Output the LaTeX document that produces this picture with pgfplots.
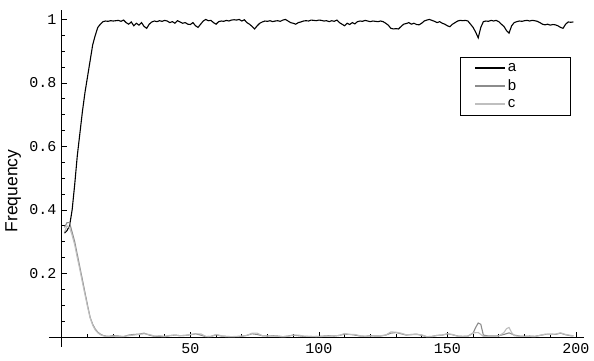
\documentclass[border=0pt]{standalone}
\usepackage{fontspec}
\setmainfont{Liberation Sans}
\setmonofont{Liberation Mono}
\usepackage{pgfplots}
\pgfplotsset{compat=1.18}
\usepackage{pgfplotstable}

\pgfplotstableread{
x y
1 0.327
2 0.335
3 0.35
4 0.40
5 0.48
6 0.57
7 0.64
8 0.71
9 0.77
10 0.82
11 0.87
12 0.92
13 0.95
14 0.975
15 0.985
16 0.993
17 0.995
18 0.994
19 0.996
20 0.995
21 0.996
22 0.997
23 0.994
24 0.998
25 0.990
26 0.985
27 0.992
28 0.980
29 0.988
30 0.982
31 0.990
32 0.978
33 0.972
34 0.985
35 0.992
36 0.995
37 0.993
38 0.996
39 0.994
40 0.997
41 0.995
42 0.990
43 0.993
44 0.988
45 0.996
46 0.992
47 0.988
48 0.990
49 0.985
50 0.984
51 0.990
52 0.980
53 0.975
54 0.985
55 0.995
56 1.0
57 0.996
58 0.997
59 0.990
60 0.985
61 0.993
62 0.995
63 0.994
64 0.997
65 0.995
66 0.998
67 0.999
68 0.998
69 1.0
70 0.995
71 0.999
72 0.990
73 0.985
74 0.978
75 0.970
76 0.980
77 0.988
78 0.992
79 0.995
80 0.994
81 0.996
82 0.993
83 0.995
84 0.996
85 0.994
86 0.998
87 1.0
88 0.995
89 0.990
90 0.988
91 0.985
92 0.990
93 0.992
94 0.995
95 0.996
96 0.995
97 0.998
98 0.997
99 0.996
100 0.998
101 0.997
102 0.995
103 0.996
104 0.993
105 0.996
106 0.994
107 0.998
108 0.990
109 0.985
110 0.980
111 0.988
112 0.984
113 0.990
114 0.986
115 0.993
116 0.995
117 0.994
118 0.997
119 0.995
120 0.993
121 0.995
122 0.994
123 0.993
124 0.995
125 0.993
126 0.988
127 0.982
128 0.972
129 0.970
130 0.971
131 0.970
132 0.978
133 0.985
134 0.987
135 0.990
136 0.985
137 0.988
138 0.984
139 0.983
140 0.988
141 0.995
142 0.998
143 1.0
144 0.997
145 0.994
146 0.990
147 0.993
148 0.988
149 0.985
150 0.980
151 0.977
152 0.985
153 0.990
154 0.995
155 0.997
156 0.996
157 0.997
158 0.995
159 0.985
160 0.975
161 0.960
162 0.942
163 0.975
164 0.993
165 0.995
166 0.994
167 0.997
168 0.995
169 0.997
170 0.993
171 0.985
172 0.978
173 0.965
174 0.957
175 0.980
176 0.990
177 0.993
178 0.995
179 0.994
180 0.996
181 0.997
182 0.995
183 0.997
184 0.996
185 0.994
186 0.990
187 0.985
188 0.983
189 0.985
190 0.982
191 0.984
192 0.983
193 0.980
194 0.975
195 0.972
196 0.985
197 0.992
198 0.991
199 0.992
}\dataA

\pgfplotstableread{
x y
1 0.345
2 0.36
3 0.36
4 0.33
5 0.30
6 0.26
7 0.22
8 0.18
9 0.14
10 0.10
11 0.062
12 0.04
13 0.025
14 0.015
15 0.009
16 0.005
17 0.003
18 0.002
20 0.004
22 0.003
24 0.001
26 0.006
28 0.008
30 0.009
32 0.012
34 0.006
36 0.002
38 0.002
40 0.001
42 0.004
44 0.006
46 0.004
48 0.005
50 0.007
52 0.010
54 0.006
56 0.001
58 0.002
60 0.007
62 0.003
64 0.002
66 0.001
68 0.001
70 0.002
72 0.005
74 0.010
76 0.008
78 0.004
80 0.003
82 0.004
84 0.003
86 0.001
88 0.003
90 0.006
92 0.004
94 0.002
96 0.002
98 0.001
100 0.002
102 0.003
104 0.004
106 0.003
108 0.005
110 0.009
112 0.008
114 0.006
116 0.003
118 0.002
120 0.004
122 0.003
124 0.003
126 0.006
128 0.012
130 0.014
132 0.010
134 0.006
136 0.008
138 0.009
140 0.005
142 0.001
144 0.002
146 0.005
148 0.006
150 0.010
152 0.007
154 0.003
156 0.002
158 0.003
160 0.012
161 0.030
162 0.044
163 0.040
164 0.006
166 0.003
168 0.003
170 0.004
172 0.008
174 0.013
176 0.006
178 0.003
180 0.002
182 0.003
184 0.002
186 0.005
188 0.008
190 0.009
192 0.008
194 0.012
196 0.007
198 0.004
199 0.004
}\dataB

\pgfplotstableread{
x y
1 0.33
2 0.35
3 0.345
4 0.32
5 0.29
6 0.25
7 0.212
8 0.172
9 0.133
10 0.095
11 0.06
12 0.037
13 0.022
14 0.013
15 0.007
16 0.004
17 0.002
18 0.002
20 0.002
22 0.001
24 0.002
26 0.004
28 0.006
30 0.008
32 0.010
34 0.008
36 0.003
38 0.004
40 0.002
42 0.005
44 0.006
46 0.004
48 0.005
50 0.008
52 0.010
54 0.010
56 0.002
58 0.001
60 0.008
62 0.004
64 0.001
66 0.001
68 0.002
70 0.003
72 0.005
74 0.012
76 0.012
78 0.004
80 0.003
82 0.003
84 0.002
86 0.001
88 0.002
90 0.006
92 0.006
94 0.003
96 0.002
98 0.002
100 0.001
102 0.002
104 0.003
106 0.003
108 0.005
110 0.011
112 0.008
114 0.008
116 0.004
118 0.002
120 0.003
122 0.003
124 0.004
126 0.006
128 0.016
130 0.015
132 0.012
134 0.007
136 0.007
138 0.008
140 0.007
142 0.001
144 0.001
146 0.005
148 0.006
150 0.010
152 0.008
154 0.002
156 0.002
158 0.002
160 0.013
162 0.014
164 0.002
166 0.002
168 0.002
170 0.003
172 0.014
173 0.026
174 0.030
175 0.014
176 0.004
178 0.002
180 0.002
182 0.002
184 0.001
186 0.005
188 0.009
190 0.008
192 0.009
194 0.013
196 0.008
198 0.005
199 0.004
}\dataC

\begin{document}
\begin{tikzpicture}
\begin{axis}[
  name=ax,
  scale only axis,
  width=534.6pt, height=336.6pt,
  xmin=-5, xmax=203, ymin=-0.03, ymax=1.03,
  axis lines=middle,
  axis line style={-, black, line width=0.9pt},
  xtick={50,100,150,200},
  minor xtick={10,20,30,40,60,70,80,90,110,120,130,140,160,170,180,190},
  ytick={0.2,0.4,0.6,0.8,1},
  minor ytick={0.05,0.1,0.15,0.25,0.3,0.35,0.45,0.5,0.55,0.65,0.7,0.75,0.85,0.9,0.95},
  tick align=inside,
  major tick length=5pt,
  minor tick length=3pt,
  tick style={black, line width=0.7pt},
  /pgf/number format/assume math mode=true,
  ticklabel style={font=\ttfamily\fontsize{15}{17}\selectfont},
  xticklabel style={yshift=-3pt, inner xsep=0pt},
  yticklabel style={xshift=-2pt},
  ylabel={Frequency},
  ylabel style={at={(axis description cs:-0.067,0.462)}, rotate=90, anchor=center, font=\fontsize{17.5}{19}\selectfont},
  legend style={at={(axis description cs:0.769,0.86)}, anchor=north west,
    draw=black, line width=0.8pt, font=\fontsize{15}{15}\selectfont,
    row sep=3pt, inner xsep=14pt, inner ysep=4pt},
  legend cell align=left,
  legend image code/.code={\draw[#1, line width=1.6pt] (0cm,0cm) -- (1.05cm,0cm);},
  clip=false,
]
\addplot[black, line width=1.1pt] table {\dataA};
\addlegendentry{\makebox[46pt][l]{a}}
\addplot[gray!90, line width=1.1pt] table {\dataB};
\addlegendentry{\makebox[46pt][l]{b}}
\addplot[black!25, line width=1.1pt] table {\dataC};
\addlegendentry{\makebox[46pt][l]{c}}
\end{axis}
\pgfresetboundingbox
\path[use as bounding box] ([shift={(-49pt,-13.5pt)}]ax.south west) rectangle ++(594pt,360pt);
\end{tikzpicture}
\end{document}
